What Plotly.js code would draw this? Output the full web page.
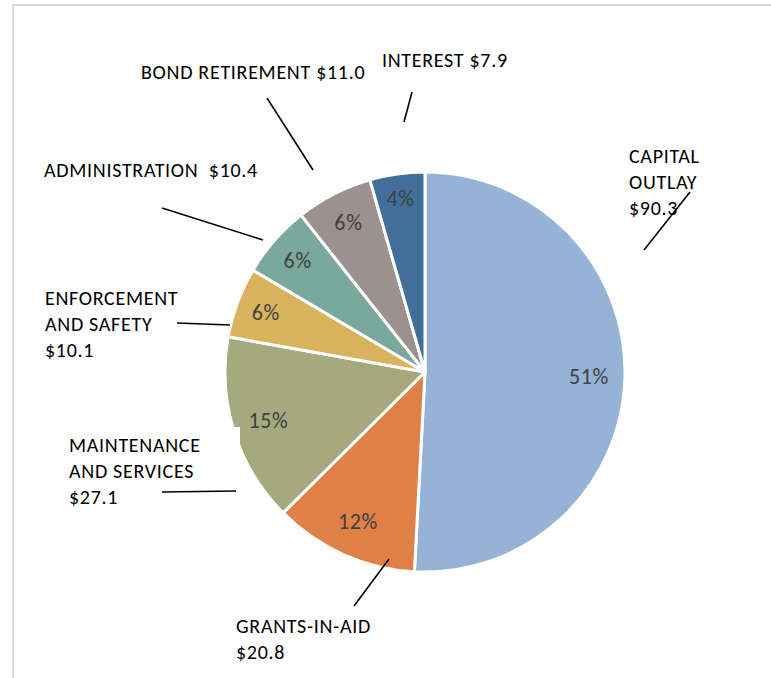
<!DOCTYPE html>
<html>
<head>
<meta charset="utf-8">
<script src="https://cdn.plot.ly/plotly-3.0.1.min.js"></script>
<style>
html,body{margin:0;padding:0;background:#fff;}
#chart{width:771px;height:678px;}
text{letter-spacing:0.7px;}
</style>
</head>
<body>
<div id="chart"></div>
<script>
// Data (millions of dollars), clockwise from 12 o'clock
var categories = ["CAPITAL OUTLAY", "GRANTS-IN-AID", "MAINTENANCE AND SERVICES", "ENFORCEMENT AND SAFETY", "ADMINISTRATION", "BOND RETIREMENT", "INTEREST"];
var values = [90.3, 20.8, 27.1, 10.1, 10.4, 11.0, 7.9];
var amountLabels = ["$90.3", "$20.8", "$27.1", "$10.1", "$10.4", "$11.0", "$7.9"];
var colors = ["#95B3D6", "#DF8047", "#A5AA7E", "#D9B25E", "#7AA89C", "#9D918F", "#416F9A"];

var W = 771, H = 678;
function px(x){ return x / W; }
function py(y){ return 1 - y / H; }

var FONT = "Carlito, Calibri, Lato, 'Open Sans', sans-serif";
var LABEL_SIZE = 20;
var PCT_SIZE = 22;

// label text lines: [lines[], left x px, first-line center y px]
var labelSpecs = [
  [["CAPITAL", "OUTLAY", amountLabels[0]], 627, 156],
  [["GRANTS-IN-AID", amountLabels[1]], 234, 626],
  [["MAINTENANCE", "AND SERVICES", amountLabels[2]], 67, 445],
  [["ENFORCEMENT", "AND SAFETY", amountLabels[3]], 43, 298],
  [["ADMINISTRATION  " + amountLabels[4]], 42, 170],
  [["BOND RETIREMENT " + amountLabels[5]], 139, 72],
  [["INTEREST " + amountLabels[6]], 380, 60]
];
var leaders = [
  [644, 250, 690, 192],
  [354, 606, 389, 559],
  [162, 492, 236, 491],
  [177, 323, 230, 325],
  [162, 208, 263, 240],
  [267, 98, 313, 170],
  [412, 92, 404, 122]
];

var annotations = [];
labelSpecs.forEach(function(s){
  s[0].forEach(function(line, i){
    annotations.push({
      xref: "paper", yref: "paper", x: px(s[1]), y: py(s[2] + i * 26),
      xanchor: "left", yanchor: "middle", showarrow: false,
      text: line.replace(/  /g, "&nbsp; "),
      font: {family: FONT, size: LABEL_SIZE, color: "#000000"}
    });
  });
});

var shapes = [
  {type: "rect", xref: "paper", yref: "paper", x0: px(13), y0: py(5), x1: px(800), y1: py(700),
   line: {color: "#D9D9D9", width: 2}, fillcolor: "rgba(0,0,0,0)", layer: "below"},
  {type: "rect", xref: "paper", yref: "paper", x0: px(66), y0: py(427), x1: px(240), y1: py(512),
   line: {width: 0}, fillcolor: "#FFFFFF", layer: "above"}
];
leaders.forEach(function(l){
  shapes.push({type: "line", xref: "paper", yref: "paper", x0: px(l[0]), y0: py(l[1]), x1: px(l[2]), y1: py(l[3]),
    line: {color: "#000000", width: 1.6}, layer: "above"});
});

var pieDomain = {x: [px(225), px(625)], y: [py(572), py(172)]};
var pctFont = {family: FONT, size: PCT_SIZE, color: "#404040"};

// main pie: percent labels of the small slices
var trace = {
  type: "pie",
  labels: categories,
  values: values,
  sort: false,
  direction: "clockwise",
  rotation: 0,
  marker: {colors: colors, line: {color: "#FFFFFF", width: 3}},
  textinfo: "percent",
  texttemplate: "%{percent:.0%}",
  textposition: ["none", "none", "none", "inside", "inside", "inside", "inside"],
  insidetextorientation: "horizontal",
  textfont: pctFont,
  hoverinfo: "label+value+percent",
  domain: pieDomain
};

// transparent ring overlay: places the large slices' percent labels near the rim
var ring = {
  type: "pie",
  labels: categories,
  values: values,
  sort: false,
  direction: "clockwise",
  rotation: 0,
  hole: 0.64,
  marker: {colors: categories.map(function(){ return "rgba(0,0,0,0)"; }), line: {width: 0}},
  textinfo: "percent",
  texttemplate: "%{percent:.0%}",
  textposition: ["inside", "inside", "inside", "none", "none", "none", "none"],
  insidetextorientation: "horizontal",
  textfont: pctFont,
  hoverinfo: "skip",
  domain: pieDomain
};

var layout = {
  width: W, height: H,
  margin: {l: 0, r: 0, t: 0, b: 0},
  paper_bgcolor: "#FFFFFF",
  showlegend: false,
  shapes: shapes,
  annotations: annotations
};

Plotly.newPlot("chart", [trace, ring], layout, {displayModeBar: false, staticPlot: true});
</script>
</body>
</html>
